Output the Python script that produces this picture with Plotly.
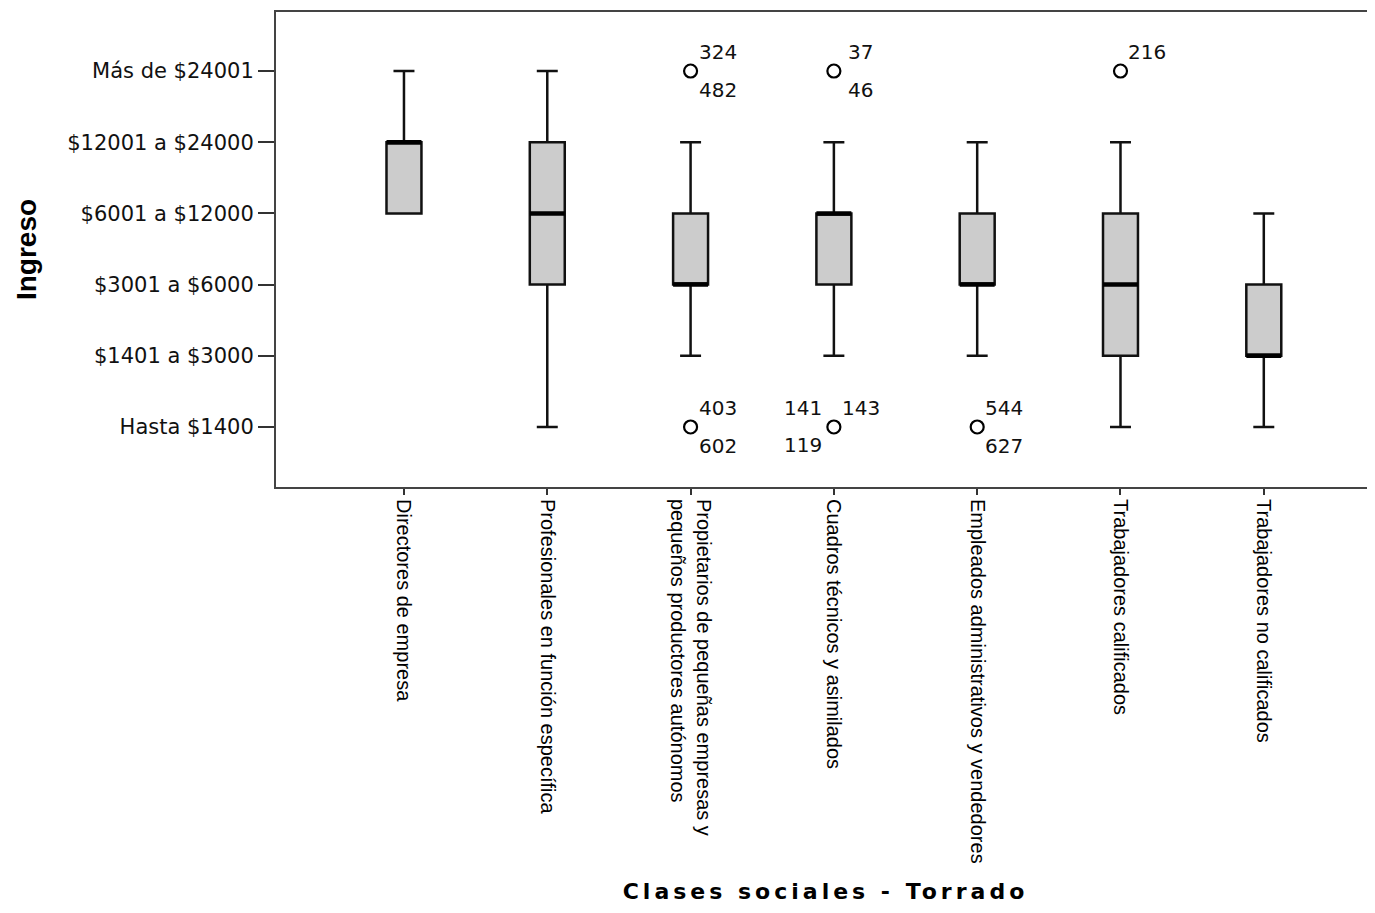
import plotly.graph_objects as go

# ---------------- data ----------------
categories = [
    "Directores de empresa",
    "Profesionales en función específica",
    "Propietarios de pequeñas empresas y<br>pequeños productores autónomos",
    "Cuadros técnicos y asimilados",
    "Empleados administrativos y vendedores",
    "Trabajadores calificados",
    "Trabajadores no calificados",
]
income_codes = [1, 2, 3, 4, 5, 6]
income_labels = ["Hasta $1400", "$1401 a $3000", "$3001 a $6000",
                 "$6001 a $12000", "$12001 a $24000", "Más de $24001"]

lower_whisker = [4, 1, 2, 2, 2, 1, 1]
q1 = [4, 3, 3, 3, 3, 2, 2]
median = [5, 4, 3, 4, 3, 3, 2]
q3 = [5, 5, 4, 4, 4, 4, 3]
upper_whisker = [6, 6, 5, 5, 5, 5, 4]

outlier_cat = [2, 2, 3, 3, 4, 5]
outlier_val = [6, 1, 6, 1, 1, 6]
outlier_cases = [["324", "482"], ["403", "602"], ["37", "46"],
                 ["141", "143", "119"], ["544", "627"], ["216"]]

# ---------------- style ----------------
BOX_W = 0.244
label_offsets = {  # pixel offsets of case labels relative to the circle
    "ur": (27, 19), "lr": (27, -19), "ul": (-31, 19), "ll": (-31, -18),
}
label_place = {
    "324": "ur", "482": "lr", "403": "ur", "602": "lr", "37": "ur", "46": "lr",
    "141": "ul", "143": "ur", "119": "ll", "544": "ur", "627": "lr", "216": "ur",
}
x_idx = list(range(len(categories)))

fig = go.Figure()
fig.add_trace(go.Box(
    x=x_idx, q1=q1, median=median, q3=q3,
    lowerfence=lower_whisker, upperfence=upper_whisker,
    width=BOX_W, whiskerwidth=0.6, boxpoints=False,
    fillcolor="#cccccc", line=dict(color="#111111", width=2.5),
    hoverinfo="skip", showlegend=False,
))

# thicker median lines
mx, my = [], []
for i, m in zip(x_idx, median):
    mx += [i - BOX_W / 2, i + BOX_W / 2, None]
    my += [m, m, None]
fig.add_trace(go.Scatter(x=mx, y=my, mode="lines",
                         line=dict(color="black", width=4.5),
                         hoverinfo="skip", showlegend=False))

# outliers
fig.add_trace(go.Scatter(
    x=outlier_cat, y=outlier_val, mode="markers",
    marker=dict(symbol="circle-open", size=13, color="black",
                line=dict(width=2.2, color="black")),
    hoverinfo="skip", showlegend=False,
))
for cx, cy, cases in zip(outlier_cat, outlier_val, outlier_cases):
    for c in cases:
        dx, dy = label_offsets[label_place[c]]
        fig.add_annotation(x=cx, y=cy, text=c, showarrow=False,
                           xshift=dx, yshift=dy, xanchor="center", yanchor="middle",
                           font=dict(family="DejaVu Sans", size=20, color="#111111"))

fig.update_layout(
    width=1367, height=897,
    margin=dict(l=268, r=0, t=4, b=418),
    plot_bgcolor="white", paper_bgcolor="white",
    showlegend=False,
)
fig.update_xaxes(
    range=[-0.893, 6.776], tickmode="array", tickvals=x_idx, ticktext=categories,
    tickangle=90, ticks="outside", ticklen=6, tickwidth=2, tickcolor="#333333",
    showline=True, linecolor="#444444", linewidth=2, mirror=True,
    showgrid=False, zeroline=False,
    tickfont=dict(family="Liberation Sans, Arial", size=20, color="black"),
    title=dict(text='<span style="letter-spacing:4px">Clases sociales - Torrado</span>',
               font=dict(family="DejaVu Sans", size=22, color="black", weight="bold"),
               standoff=21),
)
fig.update_yaxes(
    range=[0.157, 6.829], tickmode="array", tickvals=income_codes, ticktext=income_labels,
    ticks="outside", ticklen=16, tickwidth=2, tickcolor="#333333",
    showline=True, linecolor="#444444", linewidth=2, mirror=False,
    showgrid=False, zeroline=False,
    tickfont=dict(family="DejaVu Sans", size=21, color="#111111"),
    title=dict(text="Ingreso",
               font=dict(family="Liberation Sans, Arial", size=28, color="black", weight="bold"),
               standoff=22),
)

fig.write_html("out.html")
